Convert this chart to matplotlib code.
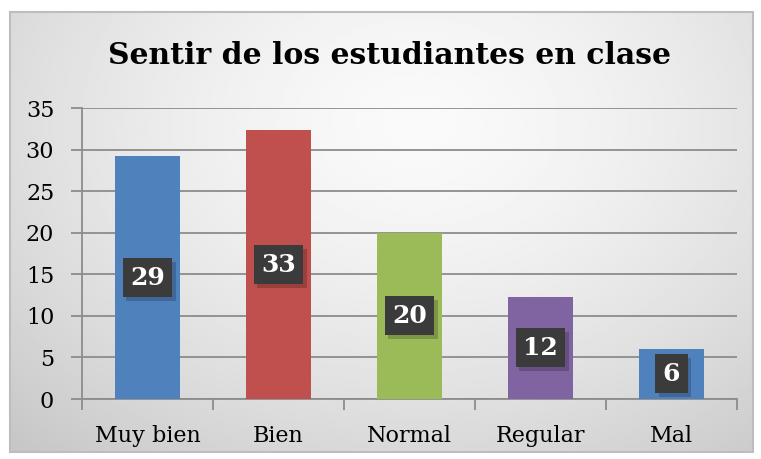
import numpy as np
from matplotlib import pyplot as plt
from matplotlib import patheffects as pe

categorias = ["Muy bien", "Bien", "Normal", "Regular", "Mal"]
valores = [29.2, 32.3, 20.0, 12.3, 6.05]
etiquetas = ["29", "33", "20", "12", "6"]
colores = ["#4f81bd", "#c0504d", "#9bbb59", "#8064a2", "#4f81bd"]
titulo = "Sentir de los estudiantes en clase"

plt.rcParams['font.family'] = ['DejaVu Serif']

fig = plt.figure(figsize=(7.61, 4.59), dpi=100)
fig.patch.set_facecolor("white")

# fondo con degradado radial
bg = fig.add_axes([10 / 761, 7 / 459, 743 / 761, 440 / 459])
yy, xx = np.mgrid[0:1:200j, 0:1:300j]
d = np.sqrt(((xx - 0.55) / 0.8) ** 2 + ((yy - 0.25) / 1.0) ** 2)
grad = 0.98 - 0.2 * np.clip(d, 0, 1) ** 1.5
bg.imshow(grad, cmap="gray", vmin=0, vmax=1, aspect="auto", extent=[0, 1, 1, 0])
bg.set_xticks([])
bg.set_yticks([])
for s in bg.spines.values():
  s.set_color("#bdbdbd")
  s.set_linewidth(1.5)

ax = fig.add_axes([82 / 761, 60 / 459, 655 / 761, 291 / 459])
ax.patch.set_alpha(0)
x = np.arange(len(categorias))
ax.bar(x, valores, width=0.5, color=colores, zorder=3)
ax.set_xlim(-0.5, len(categorias) - 0.5)
ax.set_ylim(0, 35)
ax.set_yticks(range(0, 36, 5))
ax.grid(axis="y", color="#8c8c8c", linewidth=1.3, zorder=1)
ax.set_axisbelow(True)
for s in ["top", "right"]:
  ax.spines[s].set_visible(False)
for s in ["left", "bottom"]:
  ax.spines[s].set_color("#8c8c8c")
  ax.spines[s].set_linewidth(1.3)

ax.set_xticks(x)
ax.set_xticklabels(categorias, fontsize=16)
ax.set_xticks(np.arange(-0.5, len(categorias), 1), minor=True)
ax.tick_params(axis="x", which="major", length=0, pad=19)
ax.tick_params(axis="x", which="minor", length=8, width=1.3, color="#8c8c8c")
ax.tick_params(axis="y", length=8, width=1.3, color="#8c8c8c", labelsize=16, pad=12)

# etiquetas de datos en cajas oscuras
for i, (v, t) in enumerate(zip(valores, etiquetas)):
  txt = ax.text(i, v / 2, t, ha="center", va="center", fontsize=18,
                fontweight="bold", color="white", zorder=5,
                bbox=dict(boxstyle="square,pad=0.3", fc="#3b3b3b", ec="none"))
  txt.get_bbox_patch().set_path_effects([
    pe.withSimplePatchShadow(offset=(2.5, -2.5), shadow_rgbFace="black", alpha=0.2)])

fig.text(0.512, 0.88, titulo, ha="center", va="center", fontsize=21.5,
         fontweight="bold", color="black")

fig.savefig("out.png", dpi=100)
